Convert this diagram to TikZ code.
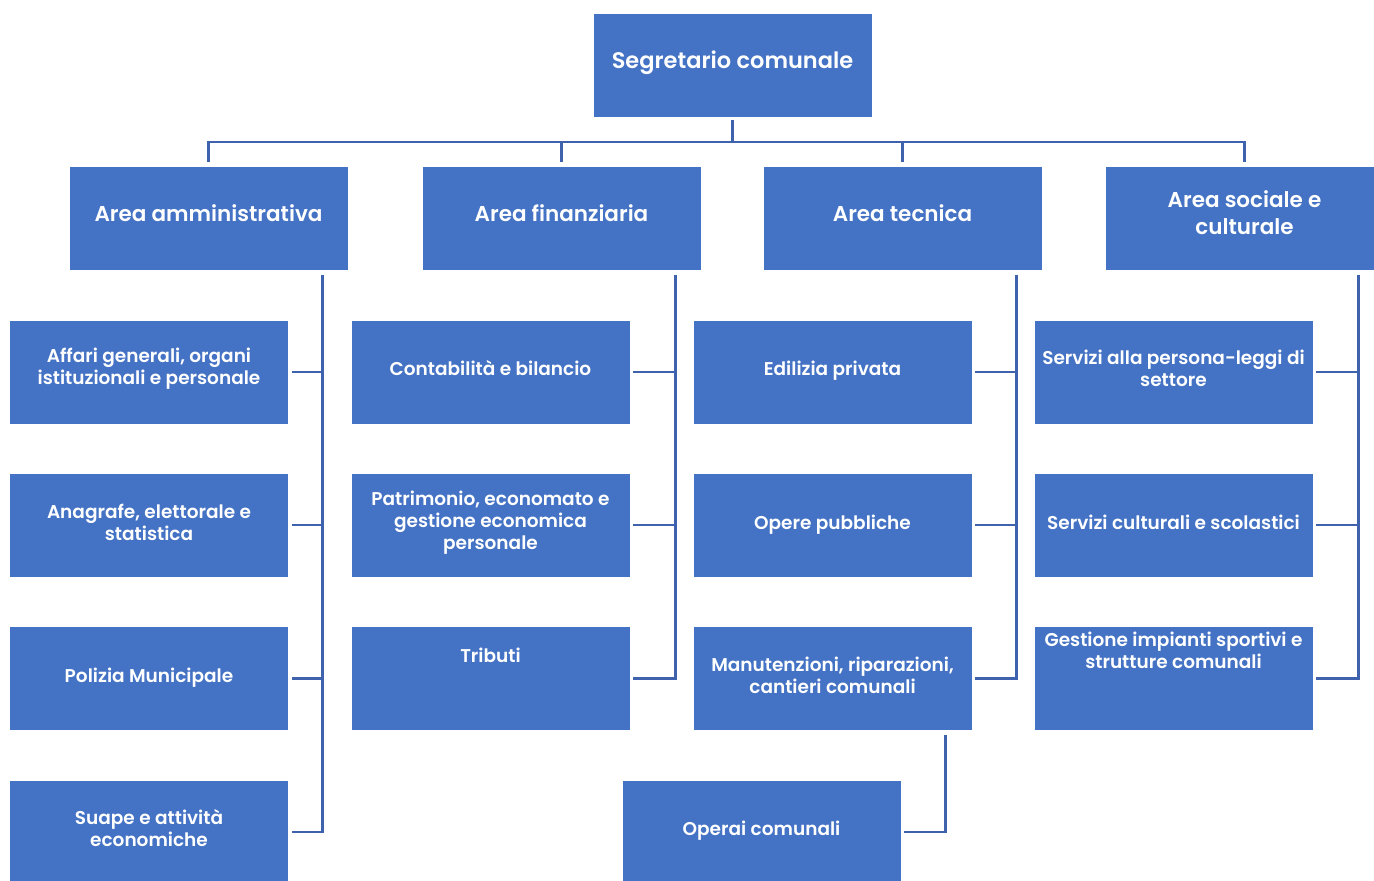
\documentclass[tikz,border=0pt]{standalone}
\usepackage{fontspec}
\setmainfont{Poppins}[BoldFont={Poppins SemiBold}]
\usepackage{tikz}
\usetikzlibrary{positioning}
\usetikzlibrary{calc}

\definecolor{boxblue}{HTML}{4472C4}
\definecolor{linkblue}{RGB}{62,98,174}

\tikzset{
	unit/.style   ={rectangle, fill=boxblue, draw=white, line width=0.8pt,
	                minimum width=279pt, minimum height=104pt, inner sep=0pt},
	txt/.style    ={text=white, align=center, inner sep=0pt, font=\bfseries\fontsize{18.5}{22}\selectfont},
	areatxt/.style={txt, font=\bfseries\fontsize{21.5}{27}\selectfont},
	link/.style   ={draw=linkblue, line width=2.6pt},
}

\begin{document}
\begin{tikzpicture}[x=1pt, y=-1pt]

	\useasboundingbox (0,0) rectangle (1374,881);

	% NOTE: every box carries its text a little above the centre,
	%       so the text is a separate node on top of the box
	\node[unit] (seg) at (732.5,65) {};
	\node[areatxt, font=\bfseries\fontsize{22.5}{27}\selectfont] (seg-t) at ([yshift=2pt]seg) {Segretario comunale};

	% the four areas
	\node[unit] (amm) at (208.5,218) {};
	\node[unit] (fin) at (561.5,218) {};
	\node[unit] (tec) at (902.5,218) {};
	\node[unit] (soc) at (1244.5,218) {};
	\node[areatxt] (amm-t) at ([yshift=5pt]amm) {Area amministrativa};
	\node[areatxt] (fin-t) at ([yshift=5pt]fin) {Area finanziaria};
	\node[areatxt] (tec-t) at ([yshift=5pt]tec) {Area tecnica};
	\node[areatxt] (soc-t) at ([yshift=5pt]soc) {Area sociale e\\culturale};

	%%%%%%%%%%%%%%%%%%%%%%%%%%%%%%%%%%%%%%%%%%%%%%%%%%%%%%%%%
	% Area amministrativa
	\node[unit] (aff) at (149,372)   {};
	\node[unit] (ana) at (149,525)   {};
	\node[unit] (pol) at (149,678.5) {};
	\node[unit] (sua) at (149,832)   {};
	\node[txt] (aff-t) at ([yshift=3pt]aff) {Affari generali, organi\\istituzionali e personale};
	\node[txt] (ana-t) at ([yshift=3pt]ana) {Anagrafe, elettorale e\\statistica};
	\node[txt] (pol-t) at ([yshift=0.5pt]pol) {Polizia Municipale};
	\node[txt] (sua-t) at ([yshift=4pt]sua) {Suape e attività\\economiche};

	% Area finanziaria
	\node[unit] (con) at (490.5,372)   {};
	\node[unit] (pat) at (490.5,525)   {};
	\node[unit] (tri) at (490.5,678.5) {};
	\node[txt] (con-t) at ([yshift=4pt]con) {Contabilità e bilancio};
	\node[txt] (pat-t) at ([yshift=2pt]pat) {Patrimonio, economato e\\gestione economica\\personale};
	\node[txt] (tri-t) at ([yshift=23.5pt]tri) {Tributi};

	% Area tecnica
	\node[unit] (edi) at (832.5,372)   {};
	\node[unit] (ope) at (832.5,525)   {};
	\node[unit] (man) at (832.5,678.5) {};
	\node[unit] (opc) at (761.5,832)   {};
	\node[txt] (edi-t) at ([yshift=1pt]edi) {Edilizia privata};
	\node[txt] (ope-t) at (ope) {Opere pubbliche};
	\node[txt] (man-t) at ([yshift=3.5pt]man) {Manutenzioni, riparazioni,\\cantieri comunali};
	\node[txt] (opc-t) at ([yshift=1pt]opc) {Operai comunali};

	% Area sociale e culturale
	\node[unit] (ser) at (1173.5,372)   {};
	\node[unit] (cul) at (1173.5,525)   {};
	\node[unit] (ges) at (1173.5,678.5) {};
	\node[txt] (ser-t) at ([yshift=4pt]ser) {Servizi alla persona-leggi di\\settore};
	\node[txt] (cul-t) at ([yshift=3pt]cul) {Servizi culturali e scolastici};
	\node[txt] (ges-t) at ([yshift=28.5pt]ges) {Gestione impianti sportivi e\\strutture comunali};

	%%%%%%%%%%%%%%%%%%%%%%%%%%%%%%%%%%%%%%%%%%%%%%%%%%%%%%%%%
	% Connectors
	\coordinate (bus) at (0,142);
	\coordinate (amm-bar) at ([xshift=-26pt, yshift=-5pt]amm.south east);
	\coordinate (fin-bar) at ([xshift=-26pt, yshift=-5pt]fin.south east);
	\coordinate (tec-bar) at ([xshift=-26pt, yshift=-5pt]tec.south east);
	\coordinate (soc-bar) at ([xshift=-26pt, yshift=-5pt]soc.south east);
	\coordinate (man-bar) at ([xshift=-27pt, yshift=-4pt]man.south east);

	% top level
	\draw[link] ([yshift=-3pt]seg.south) -- (seg.south |- bus);
	\draw[link] ([yshift=4pt]amm.north) -- (amm.north |- bus) -- (soc.north |- bus) -- ([yshift=4pt]soc.north);
	\draw[link] ([yshift=4pt]fin.north) -- (fin.north |- bus);
	\draw[link] ([yshift=4pt]tec.north) -- (tec.north |- bus);

	% amministrativa
	\draw[link] (amm-bar) -- (amm-bar |- sua.east) -- ([xshift=3pt]sua.east);
	\draw[link] ([xshift=3pt]aff.east) -- (aff.east -| amm-bar);
	\draw[link] ([xshift=3pt]ana.east) -- (ana.east -| amm-bar);
	\draw[link] ([xshift=3pt]pol.east) -- (pol.east -| amm-bar);

	% finanziaria
	\draw[link] (fin-bar) -- (fin-bar |- tri.east) -- ([xshift=3pt]tri.east);
	\draw[link] ([xshift=3pt]con.east) -- (con.east -| fin-bar);
	\draw[link] ([xshift=3pt]pat.east) -- (pat.east -| fin-bar);

	% tecnica
	\draw[link] (tec-bar) -- (tec-bar |- man.east) -- ([xshift=3pt]man.east);
	\draw[link] ([xshift=3pt]edi.east) -- (edi.east -| tec-bar);
	\draw[link] ([xshift=3pt]ope.east) -- (ope.east -| tec-bar);
	\draw[link] (man-bar) -- (man-bar |- opc.east) -- ([xshift=3pt]opc.east);

	% sociale e culturale
	\draw[link] (soc-bar) -- (soc-bar |- ges.east) -- ([xshift=3pt]ges.east);
	\draw[link] ([xshift=3pt]ser.east) -- (ser.east -| soc-bar);
	\draw[link] ([xshift=3pt]cul.east) -- (cul.east -| soc-bar);

\end{tikzpicture}
\end{document}
